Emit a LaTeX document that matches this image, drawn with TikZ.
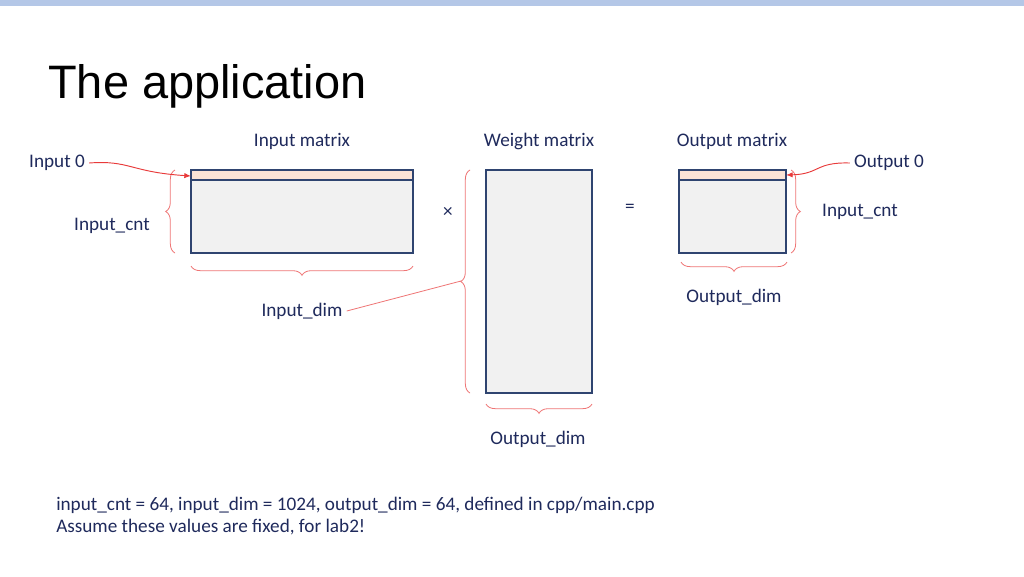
\documentclass[tikz,border=0pt]{standalone}
\usepackage{fontspec}
\setmainfont{Carlito}
\newfontfamily\titlefont{Liberation Sans}
\usetikzlibrary{decorations.pathreplacing,arrows.meta}
\definecolor{txt}{HTML}{1F2A5C}
\definecolor{frame}{HTML}{2F4470}
\definecolor{fillg}{HTML}{F1F1F1}
\definecolor{strip}{HTML}{FBE3D6}
\definecolor{bar}{HTML}{B4C7E7}
\definecolor{rd}{HTML}{E83A3A}
\tikzset{
 mat/.style={draw=frame,fill=fillg,line width=0.8pt},
 stripbox/.style={draw=frame,fill=strip,line width=0.8pt},
 br/.style={draw=rd!70,line width=0.6pt,decorate,decoration={brace,amplitude=7pt}},
 lbl/.style={text=txt,font=\fontsize{14.4}{17}\selectfont,inner sep=0pt},
 arr/.style={draw=rd,line width=0.7pt,-{Latex[length=5pt,width=4pt]}}
}
\begin{document}
\begin{tikzpicture}[x=0.75pt,y=-0.75pt]
\useasboundingbox (0,0) rectangle (1024,576);
\fill[white] (0,0) rectangle (1024,576);
\fill[bar] (0,0) rectangle (1024,6);
\node[anchor=west,inner sep=0pt,font=\titlefont\fontsize{35.2}{40}\selectfont] (title) at (48,86) {The application};
% matrices
\draw[mat] (191,170) rectangle (413,253);
\draw[stripbox] (191,170) rectangle (413,180);
\draw[mat] (486,170) rectangle (592,393);
\draw[mat] (679,170) rectangle (786,253);
\draw[stripbox] (679,170) rectangle (786,180);
\coordinate (in0) at (191,176);
\coordinate (out0) at (786,175);
% labels
\node[lbl] (lim) at (302,141) {Input matrix};
\node[lbl] (lwm) at (539,141) {Weight matrix};
\node[lbl] (lom) at (732,141) {Output matrix};
\node[lbl] (lin0) at (57,163) {Input 0};
\node[lbl] (lic) at (112,226) {Input\_cnt};
\node[lbl] (lid) at (302,311) {Input\_dim};
\node[lbl] (times) at (448,212) {×};
\node[lbl] (eq) at (630,208) {=};
\node[lbl] (lout0) at (889,163) {Output 0};
\node[lbl] (lic2) at (860,212) {Input\_cnt};
\node[lbl] (lod) at (734,297) {Output\_dim};
\node[lbl] (lod2) at (538,439) {Output\_dim};
\node[lbl,anchor=west] (n1) at (56,505) {input\_cnt = 64, input\_dim = 1024, output\_dim = 64, defined in cpp/main.cpp};
\node[lbl,anchor=west] (n2) at (56,527) {Assume these values are fixed, for lab2!};
% braces
\draw[br] (175,253) -- (175,170);
\draw[br] (413,266) -- (191,266);
\draw[br] (470,393) -- (470,170);
\coordinate (wtip) at (461,281);
\draw[br] (592,404) -- (486,404);
\draw[br] (787,262) -- (681,262);
\draw[br] (791,170) -- (791,253);
% connector
\draw[rd!70,line width=0.6pt] (lid.east) ++(4,0) -- (wtip);
% arrows
\draw[arr] (lin0.east) ++(4,0) .. controls (130,160) and (130,172) .. (in0);
\draw[arr] (lout0.west) ++(-4,0) .. controls (815,162) and (820,174) .. (out0);
\end{tikzpicture}
\end{document}
